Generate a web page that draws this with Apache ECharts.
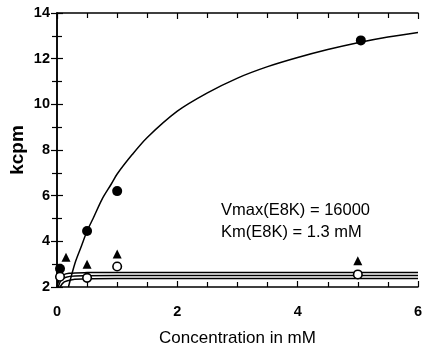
<!DOCTYPE html>
<html><head><meta charset="utf-8">
<script src="https://cdn.jsdelivr.net/npm/echarts@6/dist/echarts.min.js"></script>
<style>html,body{margin:0;padding:0;background:#fff}#c{width:425px;height:346px}</style>
</head><body><div id="c"></div>
<script>
// Data
const filledCircles = [[0.05, 2.8], [0.5, 4.45], [1.0, 6.2], [5.05, 12.8]];
const triangles = [[0.15, 3.3], [0.5, 3.0], [1.0, 3.45], [5.0, 3.15]];
const openCircles = [[0.05, 2.45], [0.5, 2.4], [1.0, 2.9], [5.0, 2.55]];
const fitCurve = [[0.19, 2.0], [0.3, 3.05], [0.4, 3.75], [0.5, 4.45], [0.6, 5.0], [0.75, 5.85], [0.9, 6.5], [1.0, 6.95], [1.25, 7.8], [1.5, 8.55], [2.0, 9.7], [2.5, 10.5], [3.0, 11.15], [3.5, 11.65], [4.0, 12.05], [4.5, 12.4], [5.0, 12.7], [5.5, 12.95], [6.0, 13.15]];
const flatHigh = [[0.0, 2.0], [0.04, 2.35], [0.1, 2.52], [0.2, 2.6], [0.5, 2.63], [1.0, 2.64], [6.0, 2.64]];
const flatMid = [[0.02, 2.0], [0.07, 2.3], [0.15, 2.43], [0.3, 2.48], [1.0, 2.5], [6.0, 2.5]];
const flatLow = [[0.05, 2.0], [0.12, 2.22], [0.25, 2.32], [0.5, 2.36], [1.0, 2.37], [6.0, 2.37]];
const xTicks = [0, 2, 4, 6];
const yTicks = [2, 4, 6, 8, 10, 12, 14];
const annotations = ['Vmax(E8K) = 16000', 'Km(E8K) = 1.3 mM'];
const xTitle = 'Concentration in mM';
const yTitle = 'kcpm';

const font = 'Liberation Sans, Arial, sans-serif';
const chart = echarts.init(document.getElementById('c'));
const lineStyle = { color: '#000', width: 1.5 };
const axisLine = { show: true, lineStyle: { color: '#000', width: 1.5 } };
const axisTick = { show: true, inside: true, length: 6, lineStyle: { color: '#000', width: 1.2 } };
const minor = (n) => ({ show: true, splitNumber: n, length: 5, lineStyle: { color: '#000', width: 1.2 } });
const xAxisBase = { type: 'value', min: xTicks[0], max: xTicks[xTicks.length - 1], interval: 2, axisLine, axisTick, minorTick: minor(4), splitLine: { show: false } };
const yAxisBase = { type: 'value', min: yTicks[0], max: yTicks[yTicks.length - 1], interval: 2, axisLine, axisTick, minorTick: minor(2), splitLine: { show: false } };
chart.setOption({
  animation: false,
  backgroundColor: '#fff',
  grid: { left: 57, right: 7, top: 13, bottom: 59, containLabel: false, outerBoundsMode: 'none' },
  xAxis: [
    Object.assign({}, xAxisBase, { position: 'bottom',
      name: xTitle, nameLocation: 'middle', nameGap: 43, nameMoveOverlap: false,
      nameTextStyle: { fontFamily: font, fontSize: 17, color: '#000' },
      axisLabel: { margin: 17, fontFamily: font, fontSize: 14.5, fontWeight: 'bold', color: '#000' } }),
    Object.assign({}, xAxisBase, { position: 'top', axisLabel: { show: false } })
  ],
  yAxis: [
    Object.assign({}, yAxisBase, { position: 'left',
      name: yTitle, nameLocation: 'middle', nameGap: 30, nameRotate: 90, nameMoveOverlap: false,
      nameTextStyle: { fontFamily: font, fontSize: 19, fontWeight: 'bold', color: '#000' },
      axisLabel: { margin: 7, fontFamily: font, fontSize: 14.5, fontWeight: 'bold', color: '#000' } }),
    Object.assign({}, yAxisBase, { position: 'right', axisLabel: { show: false } })
  ],
  series: [
    { type: 'line', data: fitCurve, smooth: 0.3, showSymbol: false, lineStyle, clip: true },
    { type: 'line', data: flatHigh, smooth: 0.3, showSymbol: false, lineStyle, clip: true },
    { type: 'line', data: flatMid, smooth: 0.3, showSymbol: false, lineStyle, clip: true },
    { type: 'line', data: flatLow, smooth: 0.3, showSymbol: false, lineStyle, clip: true },
    { type: 'scatter', data: filledCircles, symbol: 'circle', symbolSize: 10, itemStyle: { color: '#000', opacity: 1 }, z: 5 },
    { type: 'scatter', data: triangles, symbol: 'triangle', symbolSize: 9, itemStyle: { color: '#000', opacity: 1 }, z: 5 },
    { type: 'scatter', data: openCircles, symbol: 'circle', symbolSize: 8.5, itemStyle: { color: '#fff', borderColor: '#000', borderWidth: 1.6, opacity: 1 }, z: 6 }
  ],
  graphic: [
    { type: 'text', left: 221, top: 202, style: { text: annotations[0], font: '16.5px ' + font, fill: '#000' } },
    { type: 'text', left: 221, top: 224, style: { text: annotations[1], font: '16.5px ' + font, fill: '#000' } }
  ]
});
</script></body></html>
